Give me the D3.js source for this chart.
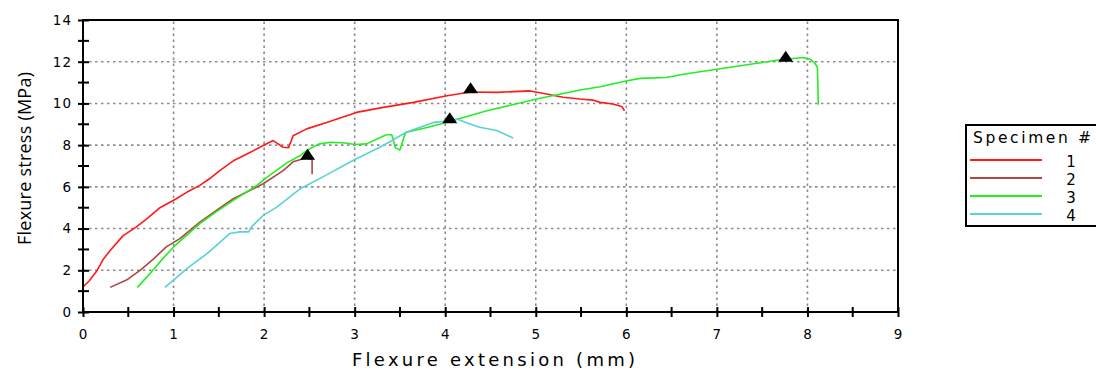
<!DOCTYPE html>
<html>
<head>
<meta charset="utf-8">
<script src="https://cdn.jsdelivr.net/npm/d3@7"></script>
<style>
  html, body { margin: 0; padding: 0; background: #fff; }
  svg { display: block; }
</style>
</head>
<body>
<svg id="chart" width="1096" height="372"></svg>
<script>
// Flexure test curves, one per specimen
const specimenNames = ["1", "2", "3", "4"];
const specimenColors = ["#ff1a1a", "#b04646", "#22ee22", "#5ad2d2"];

const ext1 = [0, 0.07, 0.15, 0.22, 0.3, 0.44, 0.59, 0.7, 0.85, 1.03, 1.15, 1.29, 1.4, 1.51, 1.66, 1.8, 1.99, 2.1, 2.16, 2.21, 2.27, 2.32, 2.47, 2.7, 3.02, 3.3, 3.65, 4.02, 4.28, 4.57, 4.94, 5.12, 5.3, 5.49, 5.63, 5.71, 5.85, 5.95, 5.98];
const stress1 = [1.2, 1.5, 1.95, 2.5, 2.95, 3.65, 4.08, 4.45, 5.0, 5.43, 5.75, 6.07, 6.4, 6.78, 7.25, 7.55, 7.98, 8.22, 8.05, 7.9, 7.88, 8.45, 8.78, 9.1, 9.57, 9.8, 10.05, 10.37, 10.55, 10.53, 10.6, 10.45, 10.3, 10.21, 10.16, 10.05, 9.97, 9.85, 9.65];

const ext2 = [0.3, 0.48, 0.63, 0.78, 0.92, 1.07, 1.29, 1.5, 1.66, 1.99, 2.21, 2.32, 2.47, 2.53, 2.53];
const stress2 = [1.18, 1.53, 2.0, 2.55, 3.12, 3.52, 4.31, 4.95, 5.43, 6.15, 6.78, 7.2, 7.4, 7.3, 6.6];

const ext3 = [0.6, 0.74, 0.87, 1.0, 1.15, 1.29, 1.47, 1.66, 1.92, 2.06, 2.25, 2.4, 2.47, 2.6, 2.73, 2.9, 3.0, 3.13, 3.35, 3.41, 3.45, 3.5, 3.55, 3.57, 3.8, 4.02, 4.46, 5.01, 5.49, 5.71, 5.97, 6.15, 6.44, 6.63, 7.0, 7.37, 7.66, 7.76, 7.95, 8.03, 8.08, 8.11, 8.12];
const stress3 = [1.18, 1.85, 2.5, 3.12, 3.7, 4.24, 4.8, 5.35, 6.07, 6.55, 7.15, 7.5, 7.74, 8.05, 8.14, 8.1, 8.03, 8.06, 8.5, 8.5, 7.87, 7.77, 8.46, 8.62, 8.85, 9.1, 9.65, 10.21, 10.64, 10.8, 11.05, 11.2, 11.24, 11.4, 11.64, 11.88, 12.07, 12.12, 12.2, 12.12, 11.95, 11.72, 9.94];

const ext4 = [0.905, 1.0, 1.15, 1.37, 1.62, 1.73, 1.83, 1.86, 1.99, 2.14, 2.4, 2.7, 2.98, 3.3, 3.57, 3.87, 4.05, 4.13, 4.25, 4.38, 4.57, 4.75];
const stress4 = [1.18, 1.53, 2.09, 2.8, 3.76, 3.84, 3.84, 4.08, 4.63, 5.03, 5.91, 6.6, 7.26, 7.95, 8.62, 9.09, 9.17, 9.25, 9.05, 8.86, 8.7, 8.34];

// Peak (maximum load) points marked with a triangle
const peakExt = [4.28, 2.48, 7.76, 4.05];
const peakStress = [10.58, 7.4, 12.1, 9.15];

const xTicks = [0, 1, 2, 3, 4, 5, 6, 7, 8, 9];
const yTicks = [0, 2, 4, 6, 8, 10, 12, 14];
const xMinorTicks = [0.5, 1.5, 2.5, 3.5, 4.5, 5.5, 6.5, 7.5, 8.5];
const yMinorTicks = [1, 3, 5, 7, 9, 11, 13];

const xLabel = "Flexure extension (mm)";
const yLabel = "Flexure stress (MPa)";
const legendTitle = "Specimen #";

const series = [
  { x: ext1, y: stress1 },
  { x: ext2, y: stress2 },
  { x: ext3, y: stress3 },
  { x: ext4, y: stress4 }
].map((s, i) => ({
  name: specimenNames[i],
  color: specimenColors[i],
  points: s.x.map((v, j) => [v, s.y[j]]),
  peak: [peakExt[i], peakStress[i]]
}));

const svg = d3.select("#chart");
const plot = { left: 83, right: 898, top: 20, bottom: 312 };

const x = d3.scaleLinear().domain([0, 9]).range([plot.left, plot.right]);
const y = d3.scaleLinear().domain([0, 14]).range([plot.bottom, plot.top]);

const tickFont = "'DejaVu Sans', Verdana, sans-serif";

// Grid
const grid = svg.append("g").attr("stroke", "#8c8c8c").attr("stroke-width", 1.6)
  .attr("stroke-dasharray", "2.5,3.5");
grid.selectAll("line.v").data(xTicks.filter(d => d > 0 && d < 9)).join("line")
  .attr("x1", d => x(d)).attr("x2", d => x(d))
  .attr("y1", y(0)).attr("y2", y(14));
grid.selectAll("line.h").data(yTicks.filter(d => d > 0 && d < 14)).join("line")
  .attr("x1", x(0)).attr("x2", x(9))
  .attr("y1", d => y(d)).attr("y2", d => y(d));

// Curves
const line = d3.line().x(d => x(d[0])).y(d => y(d[1]));
svg.append("g").selectAll("path").data(series).join("path")
  .attr("fill", "none")
  .attr("stroke", d => d.color)
  .attr("stroke-width", 1.6)
  .attr("stroke-linejoin", "round")
  .attr("d", d => line(d.points));

// Peak markers
svg.append("g").selectAll("path").data(series).join("path")
  .attr("transform", d => `translate(${x(d.peak[0])},${y(d.peak[1])})`)
  .attr("d", "M0,-9L7.5,2L-7.5,2Z")
  .attr("fill", "#000");

// Frame
svg.append("rect")
  .attr("x", plot.left).attr("y", plot.top)
  .attr("width", plot.right - plot.left).attr("height", plot.bottom - plot.top)
  .attr("fill", "none").attr("stroke", "#000").attr("stroke-width", 2);

// Axes
const xAxis = d3.axisBottom(x).tickValues(xTicks).tickSize(5).tickPadding(12).tickFormat(d3.format("d"));
const gx = svg.append("g").attr("transform", `translate(0,${plot.bottom})`).call(xAxis);
const yAxis = d3.axisLeft(y).tickValues(yTicks).tickSize(5).tickPadding(6).tickFormat(d3.format("d"));
const gy = svg.append("g").attr("transform", `translate(${plot.left},0)`).call(yAxis);
[gx, gy].forEach(g => {
  g.select(".domain").remove();
  g.selectAll(".tick line").attr("stroke", "#000").attr("stroke-width", 2);
  g.selectAll(".tick text").attr("fill", "#000")
    .style("font-family", tickFont).style("font-size", "13.5px").style("letter-spacing", "1px");
});
gx.selectAll(".tick line").attr("y1", -5);
gy.selectAll(".tick line").attr("x1", 6);

// Minor ticks
svg.append("g").selectAll("line").data(xMinorTicks).join("line")
  .attr("x1", d => x(d)).attr("x2", d => x(d))
  .attr("y1", plot.bottom - 5).attr("y2", plot.bottom + 5)
  .attr("stroke", "#000").attr("stroke-width", 2);
svg.append("g").selectAll("line").data(yMinorTicks).join("line")
  .attr("x1", plot.left - 5).attr("x2", plot.left + 6)
  .attr("y1", d => y(d)).attr("y2", d => y(d))
  .attr("stroke", "#000").attr("stroke-width", 2);

// Axis titles
svg.append("text")
  .attr("x", 352).attr("y", 366)
  .attr("textLength", 283).attr("lengthAdjust", "spacing")
  .style("font-family", tickFont).style("font-size", "18px")
  .attr("fill", "#000").text(xLabel);

svg.append("text")
  .attr("transform", "translate(31,245) rotate(-90)")
  .attr("textLength", 173).attr("lengthAdjust", "spacing")
  .style("font-family", "'Open Sans', sans-serif").style("font-size", "18px")
  .attr("fill", "#000").text(yLabel);

// Legend
const legend = svg.append("g");
legend.append("rect")
  .attr("x", 966).attr("y", 125).attr("width", 140).attr("height", 101)
  .attr("fill", "#fff").attr("stroke", "#000").attr("stroke-width", 2);
legend.append("text")
  .attr("x", 973).attr("y", 143)
  .attr("textLength", 118).attr("lengthAdjust", "spacing")
  .style("font-family", tickFont).style("font-size", "15.5px")
  .attr("fill", "#000").text(legendTitle);
const items = legend.selectAll("g.item").data(series).join("g")
  .attr("transform", (d, i) => `translate(0,${160 + i * 18})`);
items.append("line")
  .attr("x1", 970).attr("x2", 1042).attr("y1", 0).attr("y2", 0)
  .attr("stroke", d => d.color).attr("stroke-width", 2);
items.append("text")
  .attr("x", 1071).attr("y", 6.5).attr("text-anchor", "middle")
  .style("font-family", tickFont).style("font-size", "15px")
  .attr("fill", "#000").text(d => d.name);
</script>
</body>
</html>
